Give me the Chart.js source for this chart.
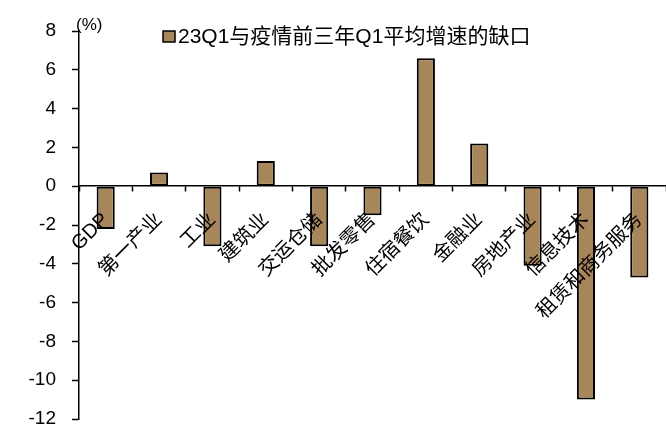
<!DOCTYPE html>
<html>
<head>
<meta charset="utf-8">
<script src="https://cdn.jsdelivr.net/npm/chart.js@4/dist/chart.umd.min.js"></script>
<style>
  body { margin: 0; background: #fff; }
  #wrap { width: 666px; height: 438px; }
</style>
</head>
<body>
<div id="wrap"><canvas id="gap-chart" width="666" height="438"></canvas></div>
<script>
// 行业分类与缺口数据（%）
const categories = ["GDP", "第一产业", "工业", "建筑业", "交运仓储", "批发零售", "住宿餐饮", "金融业", "房地产业", "信息技术", "租赁和商务服务"];
const gapValues = [-2.2, 0.7, -3.1, 1.3, -3.1, -1.5, 6.6, 2.2, -4.1, -11.0, -4.7];
const seriesName = "23Q1与疫情前三年Q1平均增速的缺口";
const yTicks = [-12, -10, -8, -6, -4, -2, 0, 2, 4, 6, 8];

const barColor = "#A8865C";
const fontFamily = "'Liberation Sans', 'Noto Sans CJK SC', sans-serif";

// 图例和单位文字自己画
const annotations = {
  id: "annotations",
  afterDraw(chart) {
    const ctx = chart.ctx;
    ctx.save();
    // 单位
    ctx.fillStyle = "#000";
    ctx.font = "17px " + fontFamily;
    ctx.textBaseline = "middle";
    ctx.textAlign = "left";
    ctx.fillText("(%)", 76, 25);
    // 图例
    ctx.fillStyle = barColor;
    ctx.fillRect(163, 31, 12, 11);
    ctx.strokeStyle = "#000";
    ctx.lineWidth = 1.5;
    ctx.strokeRect(163, 31, 12, 11);
    ctx.fillStyle = "#000";
    ctx.font = "21px " + fontFamily;
    ctx.fillText(chart.data.datasets[0].label, 178, 37);
    ctx.restore();
  }
};

const ctx = document.getElementById("gap-chart").getContext("2d");
new Chart(ctx, {
  type: "bar",
  data: {
    labels: categories,
    datasets: [{
      label: seriesName,
      data: gapValues,
      backgroundColor: barColor,
      borderColor: "#000",
      borderWidth: 2,
      borderSkipped: false,
      barPercentage: 0.34,
      categoryPercentage: 1
    }]
  },
  options: {
    responsive: false,
    animation: false,
    layout: { padding: { top: 31, bottom: 19, left: 0, right: 0 } },
    plugins: {
      legend: { display: false },
      tooltip: { enabled: false }
    },
    scales: {
      x: {
        position: { y: 0 },
        // 横轴画在0处，标签不占布局空间
        afterFit: (scale) => {
          scale.height = 0;
          scale.paddingLeft = 0;
          scale.paddingRight = 0;
          scale.paddingTop = 0;
          scale.paddingBottom = 0;
        },
        grid: {
          offset: true,
          drawOnChartArea: false,
          drawTicks: true,
          tickLength: 5,
          tickWidth: 1.5,
          tickColor: "#000"
        },
        border: { color: "#000", width: 1.5 },
        ticks: {
          z: 1, // 标签压在柱子上面
          autoSkip: false,
          minRotation: 45,
          maxRotation: 45,
          padding: 17,
          color: "#000",
          font: { family: fontFamily, size: 20 }
        }
      },
      y: {
        min: -12,
        max: 8,
        afterBuildTicks: (scale) => {
          scale.ticks = yTicks.map(v => ({ value: v }));
        },
        afterFit: (scale) => {
          scale.width = 79;
          scale.paddingTop = 0;
          scale.paddingBottom = 0;
        },
        grid: {
          drawOnChartArea: false,
          drawTicks: true,
          tickLength: 7,
          tickWidth: 1.5,
          tickColor: "#000"
        },
        border: { color: "#000", width: 1.5 },
        ticks: {
          padding: 16,
          color: "#000",
          font: { family: fontFamily, size: 19 }
        }
      }
    }
  },
  plugins: [annotations]
});
</script>
</body>
</html>
